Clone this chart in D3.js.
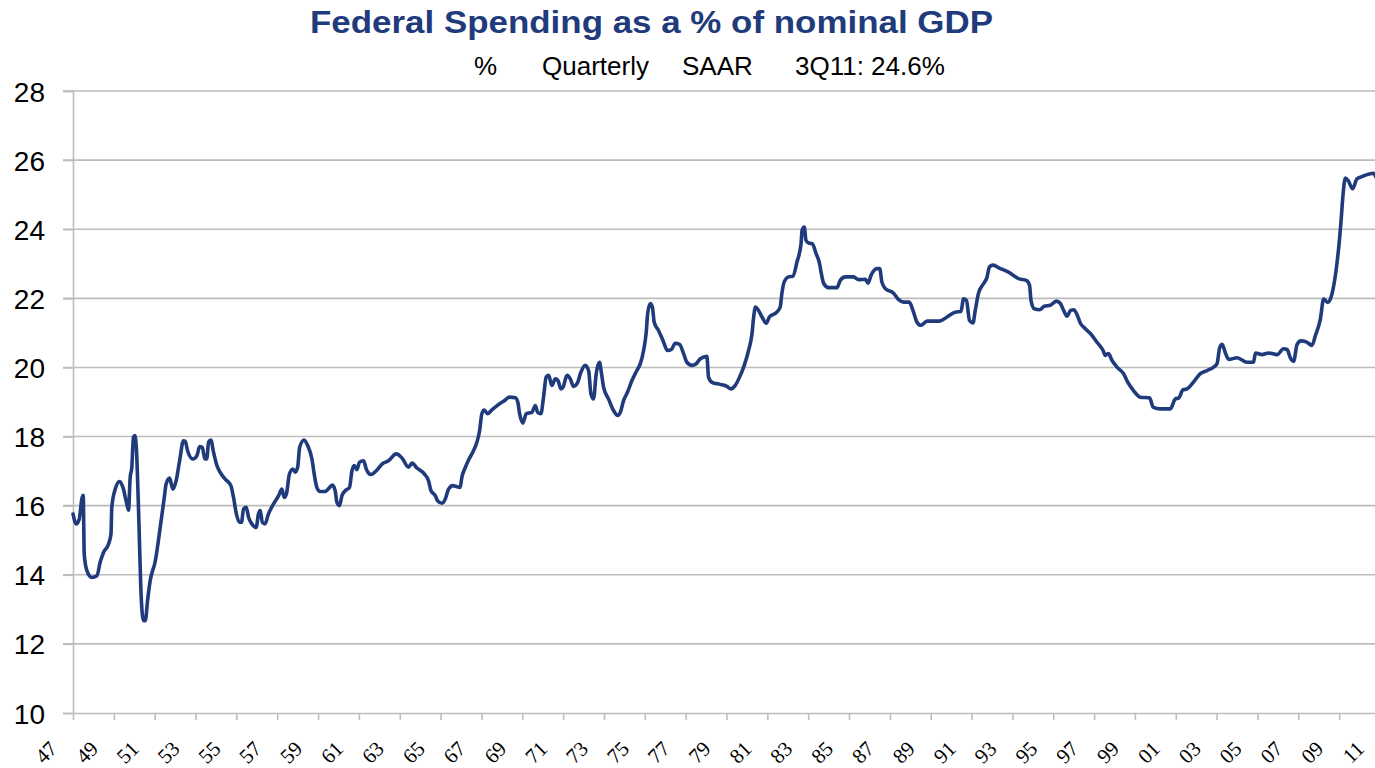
<!DOCTYPE html>
<html>
<head>
<meta charset="utf-8">
<script src="https://cdn.jsdelivr.net/npm/d3@7"></script>
<style>
    body { margin: 0; background: #fff; }
    svg { display: block; }
</style>
</head>
<body>
<div class="spending-plot"></div>
<script>
// quarter dates (decimal years)
const quarters = [
    1947.00, 1947.16, 1947.30, 1947.45, 1947.50, 1947.55, 1947.68, 1947.92, 1948.17, 1948.33,
    1948.50, 1948.74, 1948.86, 1948.90, 1949.07, 1949.28, 1949.47, 1949.60, 1949.72, 1949.80,
    1949.88, 1949.96, 1950.03, 1950.10, 1950.23, 1950.32, 1950.45, 1950.54, 1950.65, 1950.78,
    1951.03, 1951.27, 1951.47, 1951.56, 1951.73, 1951.89, 1952.05, 1952.22, 1952.41, 1952.50,
    1952.61, 1952.87, 1953.07, 1953.20, 1953.33, 1953.46, 1953.55, 1953.64, 1953.75, 1953.88,
    1954.05, 1954.20, 1954.45, 1954.73, 1954.86, 1955.00, 1955.15, 1955.25, 1955.35, 1955.48,
    1955.60, 1955.76, 1955.97, 1956.08, 1956.17, 1956.27, 1956.40, 1956.57, 1956.82, 1957.07,
    1957.23, 1957.34, 1957.45, 1957.60, 1957.77, 1957.88, 1958.00, 1958.10, 1958.32, 1958.49,
    1958.70, 1958.81, 1958.94, 1959.10, 1959.35, 1959.60, 1959.70, 1959.84, 1959.92, 1960.05,
    1960.17, 1960.33, 1960.54, 1960.66, 1960.77, 1960.90, 1961.03, 1961.23, 1961.36, 1961.59,
    1961.85, 1962.13, 1962.45, 1962.83, 1963.11, 1963.43, 1963.60, 1963.84, 1964.20, 1964.41,
    1964.53, 1964.74, 1964.85, 1965.07, 1965.23, 1965.39, 1965.60, 1965.80, 1965.96, 1966.04,
    1966.20, 1966.37, 1966.61, 1966.78, 1966.91, 1967.02, 1967.14, 1967.30, 1967.51, 1967.84,
    1968.08, 1968.38, 1968.66, 1968.78, 1968.87, 1969.03, 1969.19, 1969.47, 1969.64, 1969.75,
    1969.91, 1970.04, 1970.17, 1970.29, 1970.45, 1970.62, 1970.75, 1970.89, 1971.00, 1971.19,
    1971.35, 1971.51, 1971.70, 1971.87, 1972.08, 1972.25, 1972.36, 1972.49, 1972.62, 1972.78,
    1972.88, 1972.98, 1973.22, 1973.47, 1973.67, 1973.80, 1973.96, 1974.15, 1974.37, 1974.61,
    1974.78, 1974.94, 1975.07, 1975.14, 1975.27, 1975.37, 1975.46, 1975.67, 1975.89, 1976.11,
    1976.30, 1976.49, 1976.70, 1976.90, 1977.06, 1977.31, 1977.50, 1977.72, 1978.04, 1978.12,
    1978.29, 1978.69, 1979.02, 1979.22, 1979.43, 1979.64, 1979.87, 1980.08, 1980.25, 1980.33,
    1980.42, 1980.74, 1980.95, 1981.10, 1981.46, 1981.63, 1981.71, 1981.82, 1982.04, 1982.25,
    1982.45, 1982.65, 1982.70, 1982.81, 1982.89, 1983.02, 1983.20, 1983.39, 1983.56, 1983.63,
    1983.76, 1984.00, 1984.41, 1984.57, 1984.82, 1985.22, 1985.47, 1985.80, 1985.93, 1986.08,
    1986.37, 1986.50, 1986.61, 1986.78, 1987.18, 1987.43, 1987.67, 1987.95, 1988.13, 1988.33,
    1988.52, 1988.82, 1989.43, 1989.80, 1990.20, 1990.48, 1990.61, 1990.75, 1990.90, 1991.07,
    1991.18, 1991.34, 1991.56, 1991.75, 1991.88, 1992.05, 1992.41, 1992.81, 1993.30, 1993.68,
    1993.84, 1993.91, 1994.07, 1994.33, 1994.56, 1994.86, 1995.15, 1995.35, 1995.51, 1995.67,
    1995.85, 1996.00, 1996.15, 1996.33, 1996.57, 1996.81, 1997.14, 1997.44, 1997.55, 1997.70,
    1997.88, 1998.12, 1998.44, 1998.64, 1998.93, 1999.26, 1999.72, 1999.89, 2000.24, 2000.73,
    2000.98, 2001.15, 2001.35, 2001.55, 2001.87, 2002.20, 2002.53, 2002.85, 2003.02, 2003.15,
    2003.27, 2003.43, 2003.59, 2004.00, 2004.49, 2004.81, 2004.90, 2005.22, 2005.55, 2005.96,
    2006.28, 2006.45, 2006.61, 2006.77, 2006.94, 2007.13, 2007.39, 2007.67, 2007.83, 2008.08,
    2008.24, 2008.44, 2008.65, 2008.86, 2009.02, 2009.09, 2009.19, 2009.30, 2009.45, 2009.66,
    2009.87, 2010.15, 2010.47, 2010.69, 2010.85, 2011.00
];

// federal spending, % of nominal GDP
const spending = [
    15.76, 15.47, 15.60, 16.24, 16.30, 14.60, 14.12, 13.92, 13.97, 14.36,
    14.65, 14.89, 15.18, 15.95, 16.48, 16.70, 16.48, 16.14, 15.87, 16.82,
    17.11, 17.98, 18.03, 17.69, 15.47, 13.63, 12.67, 12.67, 13.25, 13.83,
    14.40, 15.37, 16.24, 16.63, 16.80, 16.48, 16.72, 17.30, 17.88, 17.86,
    17.59, 17.35, 17.45, 17.71, 17.69, 17.35, 17.35, 17.84, 17.90, 17.55,
    17.16, 16.97, 16.77, 16.58, 16.24, 15.76, 15.52, 15.52, 15.90, 15.95,
    15.66, 15.47, 15.37, 15.76, 15.86, 15.52, 15.47, 15.76, 16.05, 16.29,
    16.48, 16.24, 16.34, 16.92, 17.06, 16.97, 17.11, 17.69, 17.90, 17.74,
    17.35, 16.92, 16.53, 16.41, 16.41, 16.55, 16.60, 16.43, 16.10, 16.00,
    16.29, 16.43, 16.53, 17.01, 17.16, 17.04, 17.26, 17.30, 17.06, 16.90,
    17.01, 17.20, 17.30, 17.50, 17.38, 17.11, 17.23, 17.09, 16.92, 16.72,
    16.43, 16.29, 16.14, 16.07, 16.19, 16.48, 16.58, 16.55, 16.53, 16.82,
    17.09, 17.32, 17.59, 17.84, 18.17, 18.66, 18.77, 18.66, 18.77, 18.93,
    19.02, 19.14, 19.12, 19.00, 18.66, 18.39, 18.66, 18.70, 18.90, 18.70,
    18.66, 19.14, 19.72, 19.77, 19.48, 19.67, 19.62, 19.38, 19.43, 19.77,
    19.67, 19.45, 19.55, 19.86, 20.06, 19.90, 19.24, 19.09, 19.82, 20.15,
    19.82, 19.43, 19.09, 18.75, 18.61, 18.70, 19.04, 19.28, 19.62, 19.91,
    20.11, 20.49, 21.02, 21.56, 21.85, 21.75, 21.31, 21.07, 20.78, 20.49,
    20.52, 20.70, 20.67, 20.40, 20.15, 20.06, 20.10, 20.25, 20.32, 19.72,
    19.57, 19.51, 19.45, 19.38, 19.48, 19.72, 20.06, 20.49, 20.98, 21.46,
    21.75, 21.46, 21.28, 21.46, 21.60, 21.75, 22.13, 22.47, 22.62, 22.64,
    23.05, 23.58, 23.97, 24.06, 23.68, 23.60, 23.58, 23.29, 23.00, 22.76,
    22.43, 22.31, 22.31, 22.52, 22.62, 22.62, 22.54, 22.55, 22.44, 22.67,
    22.86, 22.86, 22.47, 22.28, 22.15, 21.96, 21.89, 21.89, 21.65, 21.31,
    21.22, 21.34, 21.34, 21.46, 21.60, 21.62, 21.99, 21.94, 21.36, 21.29,
    21.65, 22.15, 22.40, 22.60, 22.91, 22.96, 22.86, 22.76, 22.57, 22.52,
    22.38, 21.94, 21.70, 21.67, 21.77, 21.80, 21.92, 21.85, 21.65, 21.48,
    21.65, 21.67, 21.55, 21.28, 21.12, 20.99, 20.73, 20.49, 20.35, 20.40,
    20.20, 20.01, 19.82, 19.58, 19.33, 19.14, 19.12, 18.85, 18.80, 18.80,
    19.09, 19.12, 19.35, 19.38, 19.58, 19.82, 19.91, 20.01, 20.11, 20.57,
    20.67, 20.42, 20.23, 20.28, 20.15, 20.15, 20.42, 20.37, 20.42, 20.37,
    20.54, 20.52, 20.28, 20.18, 20.67, 20.77, 20.74, 20.64, 20.91, 21.40,
    21.98, 21.88, 22.13, 22.86, 23.73, 24.22, 25.00, 25.48, 25.40, 25.17,
    25.46, 25.53, 25.60, 25.62, 25.48, 25.50
];

const yTicks = [10, 12, 14, 16, 18, 20, 22, 24, 26, 28];
const xTicks = d3.range(1947, 2012, 2);
const subtitleParts = ['%', 'Quarterly', 'SAAR', '3Q11: 24.6%'];

const width = 1375;
const height = 768;
const navy = '#1f3b7b';

const svg = d3.select('.spending-plot')
    .append('svg')
    .attr('width', width)
    .attr('height', height)

const x = d3.scaleLinear().domain([1947, 2011]).range([73, 1380]);
const y = d3.scaleLinear().domain([10, 28]).range([713, 91]);

// title + subtitle
svg.append('text')
    .attr('x', 310)
    .attr('y', 33)
    .attr('textLength', 683)
    .attr('lengthAdjust', 'spacingAndGlyphs')
    .attr('font-family', 'Liberation Sans, Arial, sans-serif')
    .attr('font-weight', 'bold')
    .attr('font-size', 31)
    .attr('fill', navy)
    .text('Federal Spending as a % of nominal GDP')

const subX = [474, 542, 682, 795];
svg.selectAll('.sub')
    .data(subtitleParts)
    .enter()
    .append('text')
    .attr('class', 'sub')
    .attr('x', (d, i) => subX[i])
    .attr('y', 75)
    .attr('font-family', 'Liberation Sans, Arial, sans-serif')
    .attr('font-size', 26)
    .attr('fill', '#000')
    .text(d => d)

// gridlines
svg.selectAll('.grid')
    .data(yTicks.filter(d => d > 10))
    .enter()
    .append('line')
    .attr('class', 'grid')
    .attr('x1', 63)
    .attr('x2', width)
    .attr('y1', d => y(d))
    .attr('y2', d => y(d))
    .attr('stroke', '#bdbdbd')
    .attr('stroke-width', 1.6)

// y axis
const yAxis = svg.append('g')
    .attr('transform', `translate(${x(1947)},0)`)
    .call(d3.axisLeft(y).tickValues(yTicks).tickSize(10).tickPadding(18).tickFormat(d3.format('d')))
yAxis.select('.domain').attr('stroke', '#bdbdbd').attr('stroke-width', 1.6)
yAxis.selectAll('.tick line').attr('stroke', '#bdbdbd').attr('stroke-width', 1.6)
yAxis.selectAll('.tick text')
    .attr('font-family', 'Liberation Sans, Arial, sans-serif')
    .attr('font-size', 28)
    .attr('fill', '#000')
    .attr('dy', '0.36em')

// x axis
const xAxis = svg.append('g')
    .attr('transform', `translate(0,${y(10)})`)
    .call(d3.axisBottom(x).tickValues(xTicks).tickSize(7).tickSizeOuter(0).tickFormat(d => String(d).slice(2)))
xAxis.select('.domain').attr('stroke', '#bdbdbd').attr('stroke-width', 1.6)
xAxis.selectAll('.tick line').attr('stroke', '#bdbdbd').attr('stroke-width', 1.6)
xAxis.selectAll('.tick text')
    .attr('font-family', 'Liberation Serif, Times New Roman, serif')
    .attr('font-size', 21)
    .attr('fill', '#000')
    .attr('text-anchor', 'end')
    .attr('x', -15)
    .attr('y', 37)
    .attr('dy', 0)
    .attr('transform', 'rotate(-45,-15,37)')

// the series
const data = quarters.map((q, i) => ({ q: q, v: spending[i] }));
svg.append('path')
    .datum(data)
    .attr('fill', 'none')
    .attr('stroke', navy)
    .attr('stroke-width', 3.6)
    .attr('stroke-linejoin', 'round')
    .attr('stroke-linecap', 'round')
    .attr('d', d3.line().x(d => x(d.q)).y(d => y(d.v)).curve(d3.curveMonotoneX))
</script>
</body>
</html>
